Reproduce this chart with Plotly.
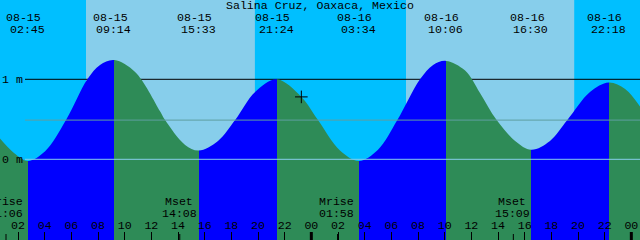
import plotly.graph_objects as go
import pandas as pd

# ---------------- data ----------------
START = "2024-08-15 00:39"
END = "2024-08-17 00:39"

curve_times = [
    "2024-08-15 00:39", "2024-08-15 01:42", "2024-08-15 02:45",
    "2024-08-15 04:02", "2024-08-15 05:36", "2024-08-15 07:12", "2024-08-15 08:09", "2024-08-15 09:14",
    "2024-08-15 10:47", "2024-08-15 12:39", "2024-08-15 13:02", "2024-08-15 14:32", "2024-08-15 15:33",
    "2024-08-15 17:00", "2024-08-15 18:17", "2024-08-15 19:47", "2024-08-15 21:24",
    "2024-08-15 23:15", "2024-08-16 00:30", "2024-08-16 02:09", "2024-08-16 03:34",
    "2024-08-16 05:00", "2024-08-16 06:27", "2024-08-16 08:09", "2024-08-16 09:08", "2024-08-16 10:06",
    "2024-08-16 11:32", "2024-08-16 12:39", "2024-08-16 13:54", "2024-08-16 15:17", "2024-08-16 16:30",
    "2024-08-16 17:54", "2024-08-16 19:12", "2024-08-16 20:54", "2024-08-16 22:18",
    "2024-08-16 23:32", "2024-08-17 00:39",
]
curve_heights = [
    0.26, 0.08, -0.02,
    0.10, 0.49, 1.00, 1.18, 1.24,
    1.09, 0.60, 0.49, 0.18, 0.11,
    0.23, 0.49, 0.84, 1.00,
    0.78, 0.49, 0.11, -0.02,
    0.12, 0.49, 1.00, 1.18, 1.23,
    1.11, 0.83, 0.49, 0.23, 0.12,
    0.23, 0.49, 0.84, 0.96,
    0.88, 0.66,
]

event_times = ["2024-08-15 02:45", "2024-08-15 09:14", "2024-08-15 15:33", "2024-08-15 21:24",
               "2024-08-16 03:34", "2024-08-16 10:06", "2024-08-16 16:30", "2024-08-16 22:18"]
event_types = ["low", "high", "low", "high", "low", "high", "low", "high"]

moon_times = ["2024-08-15 01:06", "2024-08-15 14:08", "2024-08-16 01:58", "2024-08-16 15:09"]
moon_labels = ["Mrise", "Mset", "Mrise", "Mset"]

day_starts = ["2024-08-15 07:06", "2024-08-16 07:06"]
day_ends = ["2024-08-15 19:46", "2024-08-16 19:43"]

midnights = ["2024-08-16 00:00", "2024-08-17 00:00"]

now_time = ["2024-08-15 23:15"]
now_height = [0.78]

depth_lines = [1.0]
depth_labels = ["1 m", "0 m"]
depth_label_vals = [1.0, 0.0]
msl_height = 0.49
datum_height = 0.0

TITLE = "Salina Cruz, Oaxaca, Mexico"

# ---------------- style ----------------
Y_MIN, Y_MAX = -1.00875, 1.99125
NIGHT = "#00BFFF"
DAY = "#87CEEB"
RISE = "#0000FF"
FALL = "#2E8B57"
FONT = dict(family="Liberation Mono", size=11.6, color="black")
W, H = 640, 240

t0 = pd.Timestamp(START)
t1 = pd.Timestamp(END)
span = (t1 - t0).total_seconds()

cs = []
prev = 0.0
color = FALL
for et, typ in zip(event_times, event_types):
    f = (pd.Timestamp(et) - t0).total_seconds() / span
    cs.append([prev, color])
    cs.append([f, color])
    color = RISE if typ == "low" else FALL
    prev = f
cs.append([prev, color])
cs.append([1.0, color])

fig = go.Figure()
fig.add_trace(go.Scatter(x=[START, END], y=[Y_MIN, Y_MIN], mode="lines",
                         line=dict(width=0), hoverinfo="skip", showlegend=False))
fig.add_trace(go.Scatter(x=curve_times, y=curve_heights, mode="lines",
                         line=dict(width=0, shape="spline", smoothing=1),
                         fill="tonexty",
                         fillgradient=dict(type="horizontal", colorscale=cs),
                         hoverinfo="skip", showlegend=False))
fig.add_trace(go.Scatter(x=now_time, y=now_height, mode="markers",
                         marker=dict(symbol="cross-thin", size=9,
                                     line=dict(color="black", width=1)),
                         hoverinfo="skip", showlegend=False))

shapes = []
for s, e in zip(day_starts, day_ends):
    shapes.append(dict(type="rect", xref="x", yref="paper", x0=s, x1=e, y0=0, y1=1,
                       fillcolor=DAY, line=dict(width=0), layer="below"))
for d in depth_lines:
    shapes.append(dict(type="line", xref="paper", yref="y", x0=25 / W, x1=1, y0=d, y1=d,
                       line=dict(color="black", width=1), layer="below"))
shapes.append(dict(type="line", xref="paper", yref="y", x0=25 / W, x1=1, y0=msl_height, y1=msl_height,
                   line=dict(color="#5F9EA0", width=1), layer="above"))
shapes.append(dict(type="line", xref="paper", yref="y", x0=25 / W, x1=1, y0=datum_height, y1=datum_height,
                   line=dict(color="#87CEEB", width=1), layer="above"))
for m in midnights:
    shapes.append(dict(type="line", xref="x", yref="paper", x0=m, x1=m, y0=0, y1=8 / H,
                       line=dict(color="black", width=3), layer="above"))
for m in moon_times:
    shapes.append(dict(type="line", xref="x", yref="paper", x0=m, x1=m, y0=0, y1=6 / H,
                       line=dict(color="black", width=1), layer="above"))

def py(p):
    return 1 - p / H

ann = []
ann.append(dict(text=TITLE, xref="paper", yref="paper", x=0.5, y=py(5.5),
                xanchor="center", yanchor="middle", showarrow=False, font=FONT))
for lab, v in zip(depth_labels, depth_label_vals):
    ann.append(dict(text=lab, xref="paper", yref="y", x=0, y=v, xanchor="left",
                    yanchor="middle", showarrow=False, font=FONT))
for et in event_times:
    ts = pd.Timestamp(et)
    ann.append(dict(text=ts.strftime("%m-%d"), xref="x", yref="paper", x=et, y=py(17.5),
                    xanchor="center", yanchor="middle", xshift=-4.3, showarrow=False, font=FONT))
    ann.append(dict(text=ts.strftime("%H:%M"), xref="x", yref="paper", x=et, y=py(29),
                    xanchor="center", yanchor="middle", xshift=-0.5, showarrow=False, font=FONT))
for mt, ml in zip(moon_times, moon_labels):
    ts = pd.Timestamp(mt)
    ann.append(dict(text=ml, xref="x", yref="paper", x=mt, y=py(201.5),
                    xanchor="center", yanchor="middle", xshift=-1, showarrow=False, font=FONT))
    ann.append(dict(text=ts.strftime("%H:%M"), xref="x", yref="paper", x=mt, y=py(213.5),
                    xanchor="center", yanchor="middle", xshift=-0.7, showarrow=False, font=FONT))

fig.update_layout(
    width=W, height=H, margin=dict(l=0, r=0, t=0, b=0, pad=0),
    plot_bgcolor=NIGHT, paper_bgcolor=NIGHT, showlegend=False,
    shapes=shapes, annotations=ann,
    xaxis=dict(type="date", range=[START, END], tick0="2024-08-15 00:00", dtick=7200000,
               tickformat="%H", ticks="inside", ticklen=8, tickwidth=1, tickcolor="black",
               ticklabelposition="inside", tickfont=FONT, showgrid=False, zeroline=False,
               showline=False, fixedrange=True),
    yaxis=dict(range=[Y_MIN, Y_MAX], visible=False, fixedrange=True),
)

fig.write_html("out.html")
